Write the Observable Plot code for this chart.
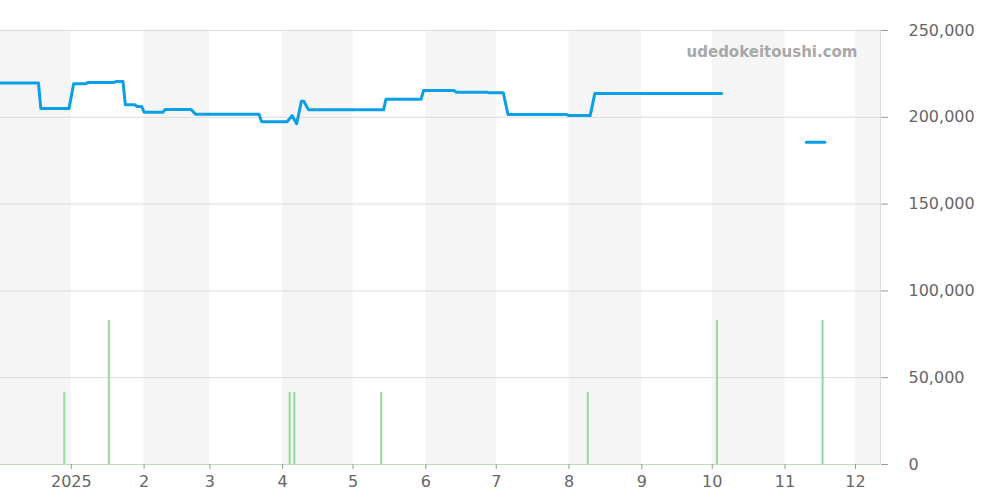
<!DOCTYPE html>
<html><head><meta charset="utf-8">
<script src="https://cdn.jsdelivr.net/npm/d3@7"></script>
<script src="https://cdn.jsdelivr.net/npm/@observablehq/plot@0.6"></script>
<style>body{margin:0;background:#fff;font-family:"DejaVu Sans",sans-serif}</style>
</head><body><div id="chart"></div>
<script>
const domainStart = "2024-12-01T20:00Z";
const domainEnd = "2025-12-11T16:00Z";
const shadedMonths = ["2024-12-01","2025-02-01","2025-04-01","2025-06-01","2025-08-01","2025-10-01","2025-12-01"];
const monthTicks = ["2025-01-01","2025-02-01","2025-03-01","2025-04-01","2025-05-01","2025-06-01","2025-07-01","2025-08-01","2025-09-01","2025-10-01","2025-11-01","2025-12-01"];
const yTicks = [0, 50000, 100000, 150000, 200000, 250000];
const priceDates = ["2024-12-02","2024-12-18","2024-12-19","2024-12-31","2025-01-02","2025-01-07","2025-01-08","2025-01-19","2025-01-20","2025-01-23","2025-01-24","2025-01-28","2025-01-29","2025-01-31","2025-02-01","2025-02-09","2025-02-10","2025-02-21","2025-02-23","2025-03-22","2025-03-23","2025-04-03","2025-04-05","2025-04-07","2025-04-09","2025-04-10","2025-04-12","2025-05-14","2025-05-15","2025-05-30","2025-05-31","2025-06-13","2025-06-14","2025-06-27","2025-06-28","2025-07-04","2025-07-06","2025-07-31","2025-08-01","2025-08-10","2025-08-12","2025-10-05","2025-10-06","2025-11-09","2025-11-10","2025-11-18"];
const priceValues = [219700,219700,205000,205000,219300,219300,220000,220000,220600,220600,207300,207300,206200,206200,202900,202900,204500,204500,201700,201700,197500,197500,201000,196300,209300,209300,204300,204300,210400,210400,215400,215400,214500,214500,214100,214100,201600,201600,201000,201000,213700,213700,null,null,185700,185700];
const volumeDates = ["2024-12-29","2025-01-17","2025-04-04","2025-04-06","2025-05-13","2025-08-09","2025-10-03","2025-11-17"];
const volumeValues = [41500,83000,41500,41500,41500,41500,83000,83000];
const watermark = "udedokeitoushi.com";

const price = priceDates.map((d,i)=>({date:new Date(d+"T00:00Z"), v:priceValues[i]}));
const volume = volumeDates.map((d,i)=>({date:new Date(d+"T00:00Z"), v:volumeValues[i]}));
const bands = shadedMonths.map(m=>{const s=new Date(m+"T00:00Z"); return {x1:s, x2:d3.utcMonth.offset(s,1)};});
const xd = [new Date(domainStart), new Date(domainEnd)];

const chart = Plot.plot({
  width: 1000, height: 500,
  marginLeft: 0, marginRight: 120, marginTop: 30, marginBottom: 36,
  style: {fontFamily: "DejaVu Sans, sans-serif", fontSize: "16px", color: "#666", background: "#fff"},
  x: {type: "utc", domain: xd},
  y: {domain: [0, 250000]},
  marks: [
    Plot.rectY(bands, {x1: "x1", x2: "x2", y1: 0, y2: 250000, fill: "#f5f5f5", clip: true}),
    Plot.gridY(yTicks, {stroke: "#dcdcdc", strokeOpacity: 1}),
    Plot.ruleX([xd[1]], {stroke: "#dcdcdc"}),
    Plot.ruleY([0], {stroke: "#a8dca8", strokeDasharray: "1.5,1"}),
    Plot.ruleX(volume, {x: "date", y1: 0, y2: "v", stroke: "#98d89a", strokeWidth: 2}),
    Plot.line(price, {x: "date", y: "v", stroke: "#0a9fe6", strokeWidth: 3, curve: "linear"}),
    Plot.axisY(yTicks, {anchor: "right", tickSize: 7, tickPadding: 21, tickFormat: d3.format(","), textAnchor: "start", stroke: "#999", fill: "#666", label: null, fontSize: 16}),
    Plot.axisX(monthTicks.map(d=>new Date(d+"T00:00Z")), {anchor: "bottom", tickSize: 5, tickPadding: 6, stroke: "#999", fill: "#666", label: null, fontSize: 16,
      tickFormat: d => d.getUTCMonth() === 0 ? String(d.getUTCFullYear()) : String(d.getUTCMonth()+1)}),
    Plot.text([watermark], {text: d => d, frameAnchor: "top-right", dx: -23, dy: 16, fill: "#a8a8a8", fontWeight: "bold", fontSize: 15, textAnchor: "end"})
  ]
});
document.getElementById("chart").appendChild(chart);
</script></body></html>
